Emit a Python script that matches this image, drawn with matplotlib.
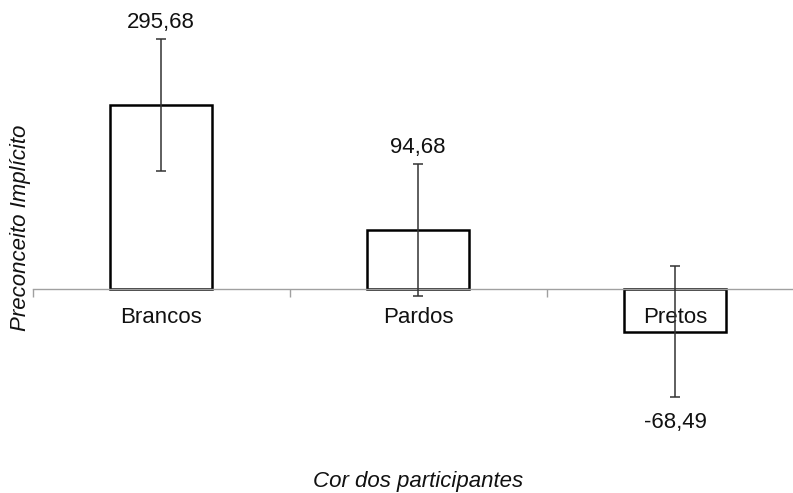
import numpy as np
import matplotlib.pyplot as plt
from matplotlib.ticker import FixedLocator

plt.rcParams['font.family'] = ['Liberation Sans', 'DejaVu Sans']

# Dados
categorias = ['Brancos', 'Pardos', 'Pretos']
medias = [295.68, 94.68, -68.49]
erros = [105.5, 106.5, 105.0]
rotulos = ['295,68', '94,68', '-68,49']

fig = plt.figure(figsize=(7.93, 4.93), dpi=100)
# eixo um pouco mais largo que a figura, como no original
ax = fig.add_axes([32.5 / 793, 0, 771 / 793, 1])

x = np.arange(len(categorias))
ax.bar(x, medias, width=0.4, color='white', edgecolor='black', linewidth=1.8, zorder=1)
ax.errorbar(x, medias, yerr=erros, fmt='none', ecolor='#333333', elinewidth=1.1,
            capsize=3.3, capthick=1.1, zorder=3)

ax.set_xlim(-0.5, 2.5)
ax.set_ylim(-328, 464.6)

# rótulos dos valores
for xi, m, e, r in zip(x, medias, erros, rotulos):
    if m >= 0:
        ax.annotate(r, (xi, m + e), xytext=(0, 6), textcoords='offset pixels',
                    ha='center', va='bottom', fontsize=16, color='#111111')
    else:
        ax.annotate(r, (xi, m - e), xytext=(0, -15), textcoords='offset pixels',
                    ha='center', va='top', fontsize=16, color='#111111')

# eixo x na linha do zero
for s in ['top', 'right', 'left']:
    ax.spines[s].set_visible(False)
ax.spines['bottom'].set_position(('data', 0))
ax.spines['bottom'].set_color('#a0a0a0')
ax.spines['bottom'].set_linewidth(1.0)
ax.set_yticks([])
ax.set_xticks(x)
ax.set_xticklabels(categorias, fontsize=16, color='#111111')
ax.tick_params(axis='x', which='major', length=0, pad=13)
ax.xaxis.set_minor_locator(FixedLocator([-0.5, 0.5, 1.5, 2.5]))
ax.tick_params(axis='x', which='minor', length=6, width=1, color='#a0a0a0')

fig.text(21 / 793, 1 - 228 / 493, 'Preconceito Implícito', rotation=90,
         ha='center', va='center', fontsize=16, style='italic', color='#111111')
fig.text(418 / 793, 1 - 487 / 493, 'Cor dos participantes', ha='center',
         va='baseline', fontsize=16, style='italic', color='#111111')

fig.savefig('out.png', dpi=100)
